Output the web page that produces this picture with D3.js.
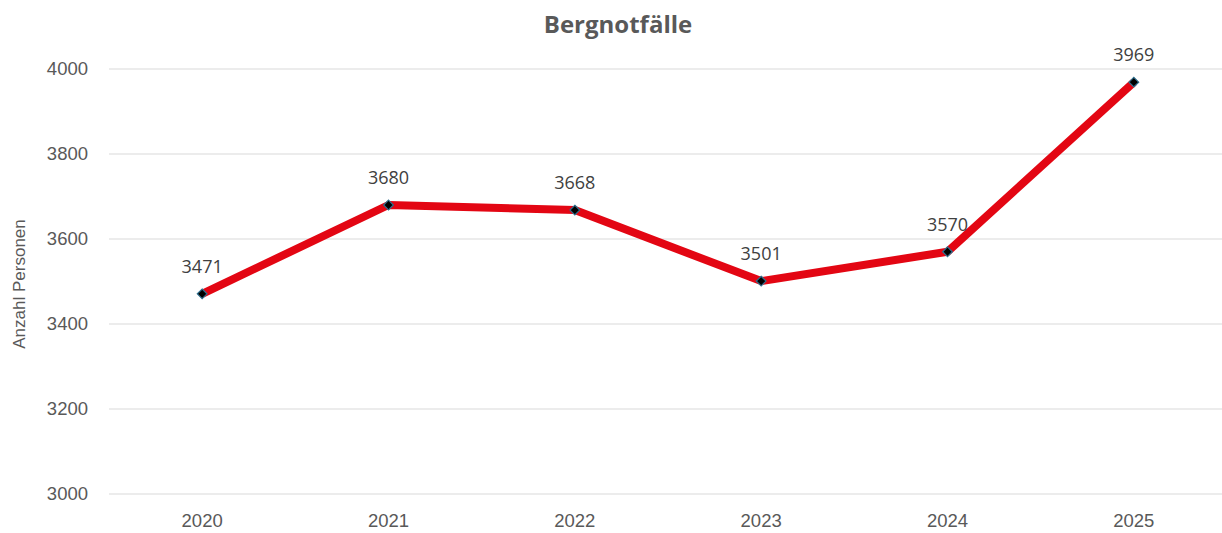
<!DOCTYPE html>
<html>
<head>
<meta charset="utf-8">
<script src="https://cdn.jsdelivr.net/npm/d3@7"></script>
<style>
  body { margin: 0; background: #fff; }
  svg { display: block; }
</style>
</head>
<body>
<svg id="chart" width="1222" height="533"></svg>
<script>
const years = ["2020", "2021", "2022", "2023", "2024", "2025"];
const values = [3471, 3680, 3668, 3501, 3570, 3969];
const yTicks = [3000, 3200, 3400, 3600, 3800, 4000];

const svg = d3.select("#chart");
const grey = "#595959";

const x = d3.scaleBand().domain(years).range([109, 1227]);
const y = d3.scaleLinear().domain([3000, 4000]).range([494, 69]);

// gridlines
svg.append("g")
    .selectAll("line")
    .data(yTicks)
    .enter().append("line")
    .attr("x1", 109)
    .attr("x2", 1222)
    .attr("y1", d => y(d))
    .attr("y2", d => y(d))
    .attr("stroke", "#d9d9d9")
    .attr("stroke-width", 1);

// y axis labels
svg.append("g")
    .selectAll("text")
    .data(yTicks)
    .enter().append("text")
    .attr("x", 88)
    .attr("y", d => y(d))
    .attr("dy", "0.35em")
    .attr("text-anchor", "end")
    .style("font-family", "Liberation Sans, Arial, sans-serif")
    .style("font-size", "18.5px")
    .style("fill", grey)
    .text(d => d);

// x axis labels
svg.append("g")
    .selectAll("text")
    .data(years)
    .enter().append("text")
    .attr("x", d => x(d) + x.bandwidth() / 2)
    .attr("y", 521)
    .attr("dy", "0.35em")
    .attr("text-anchor", "middle")
    .style("font-family", "Liberation Sans, Arial, sans-serif")
    .style("font-size", "18.5px")
    .style("fill", grey)
    .text(d => d);

// title
svg.append("text")
    .attr("x", 618)
    .attr("y", 25)
    .attr("dy", "0.35em")
    .attr("text-anchor", "middle")
    .style("font-family", "Open Sans, sans-serif")
    .style("font-weight", "bold")
    .style("font-size", "24px")
    .style("fill", grey)
    .text("Bergnotfälle");

// y axis title
svg.append("text")
    .attr("transform", "translate(19,284) rotate(-90)")
    .attr("dy", "0.35em")
    .attr("text-anchor", "middle")
    .style("font-family", "Liberation Sans, Arial, sans-serif")
    .style("font-size", "17px")
    .style("fill", grey)
    .text("Anzahl Personen");

const pts = years.map((d, i) => ({ year: d, value: values[i] }));
const cx = d => x(d.year) + x.bandwidth() / 2;

const line = d3.line()
    .x(cx)
    .y(d => y(d.value));

svg.append("path")
    .datum(pts)
    .attr("d", line)
    .attr("fill", "none")
    .attr("stroke", "#e30613")
    .attr("stroke-width", 8)
    .attr("stroke-linejoin", "round");

// diamond markers
svg.append("g")
    .selectAll("path")
    .data(pts)
    .enter().append("path")
    .attr("d", d3.symbol().type(d3.symbolDiamond2).size(60))
    .attr("transform", d => `translate(${cx(d)},${y(d.value)})`)
    .attr("fill", "#000")
    .attr("stroke", "#2e6f8e")
    .attr("stroke-width", 1.2);

// data labels
svg.append("g")
    .selectAll("text")
    .data(pts)
    .enter().append("text")
    .attr("x", cx)
    .attr("y", d => y(d.value) - 27)
    .attr("dy", "0.35em")
    .attr("text-anchor", "middle")
    .style("font-family", "Open Sans, sans-serif")
    .style("font-size", "18px")
    .style("fill", "#404040")
    .text(d => d.value);
</script>
</body>
</html>
